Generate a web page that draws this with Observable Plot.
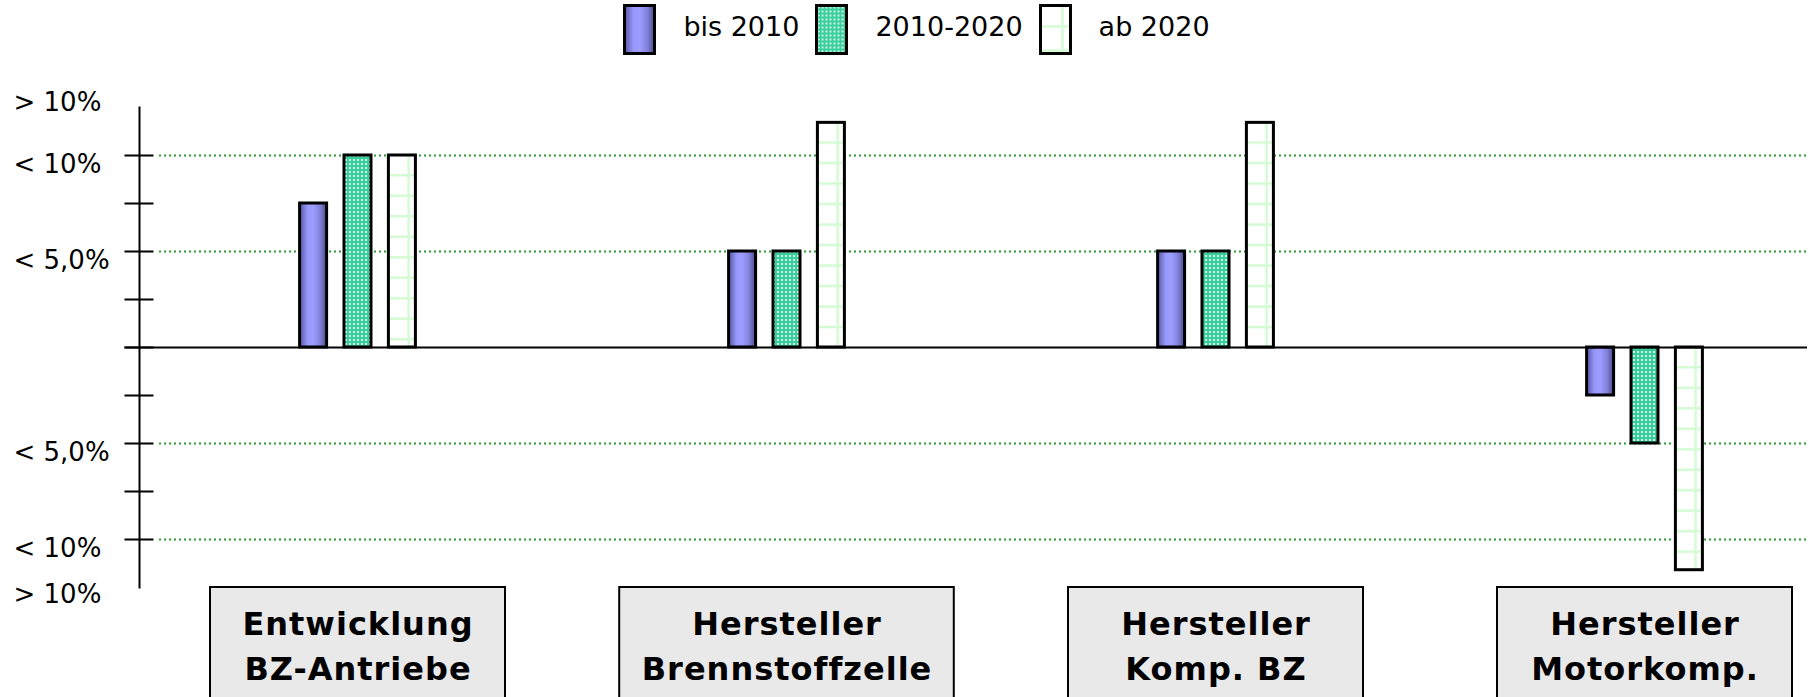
<!DOCTYPE html>
<html>
<head>
<meta charset="utf-8">
<script src="https://cdn.jsdelivr.net/npm/d3@7"></script>
<script src="https://cdn.jsdelivr.net/npm/@observablehq/plot@0.6"></script>
<style>
  html, body { margin: 0; padding: 0; background: #fff; }
  #legend {
    height: 58px; display: flex; justify-content: center; align-items: center;
    padding-left: 14px;
    font-family: "DejaVu Sans", sans-serif; font-size: 27px; color: #000;
  }
  #legend .item { display: flex; align-items: center; margin: 0 8px; }
  #legend svg { display: block; }
  #legend span { margin-left: 27px; position: relative; top: -3px; }
  #chart svg { display: block; overflow: visible; }
  /* category names in the boxes are set slightly spaced */
  #chart g[font-weight="bold"] text { letter-spacing: 1px; }
</style>
</head>
<body>
<svg width="0" height="0" style="position:absolute">
  <defs id="fills">
    <linearGradient id="fill-bis2010" x1="0" x2="1" y1="0" y2="0">
      <stop offset="0" stop-color="#5656a4"/>
      <stop offset="0.3" stop-color="#9898fc"/>
      <stop offset="0.5" stop-color="#9d9dff"/>
      <stop offset="0.75" stop-color="#8383dc"/>
      <stop offset="1" stop-color="#4a4a8a"/>
    </linearGradient>
    <pattern id="fill-2010-2020" patternUnits="userSpaceOnUse" width="4" height="4">
      <rect width="4" height="4" fill="#38cf9d"/>
      <rect x="1" y="1" width="2" height="2" fill="#cff6e9"/>
    </pattern>
    <pattern id="fill-ab2020" patternUnits="userSpaceOnUse" width="28" height="20.5">
      <rect width="28" height="20.5" fill="#fff"/>
      <line x1="20.5" x2="20.5" y1="0" y2="20.5" stroke="#d4fbd4" stroke-width="2.5"/>
      <line x1="0" x2="28" y1="20" y2="20" stroke="#d4fbd4" stroke-width="2.5"/>
    </pattern>
  </defs>
</svg>
<div id="legend"></div>
<div id="chart"></div>
<script>
// Categories (two-line labels) and the three time periods
const categories = [
  "Entwicklung\nBZ-Antriebe",
  "Hersteller\nBrennstoffzelle",
  "Hersteller\nKomp. BZ",
  "Hersteller\nMotorkomp."
];
const series = ["bis 2010", "2010-2020", "ab 2020"];

// Values per period, one entry per category (percent)
const bis2010 = [7.5, 5, 5, -2.5];
const von2010bis2020 = [10, 5, 5, -5];
const ab2020 = [10, 11.7, 11.7, -11.6];

// Y axis: tick marks, dotted reference levels and the class labels
const yTicks = [-10, -7.5, -5, -2.5, 0, 2.5, 5, 7.5, 10];
const gridLevels = [-10, -5, 5, 10];
const yLabelText = ["> 10%", "< 10%", "< 5,0%", "< 5,0%", "< 10%", "> 10%"];
const yLabelAt = [13.2, 10, 5, -5, -10, -12.4];

const seriesValues = [bis2010, von2010bis2020, ab2020];
const seriesFill = ["url(#fill-bis2010)", "url(#fill-2010-2020)", "url(#fill-ab2020)"];

const rows = categories.flatMap((c, i) =>
  series.map((s, j) => ({category: c, series: s, value: seriesValues[j][i]}))
);

// Legend
const legend = d3.select("#legend");
series.forEach((s, j) => {
  const item = legend.append("div").attr("class", "item");
  const sw = item.append("svg").attr("width", 33).attr("height", 51);
  const g = sw.append("g").attr("transform", "translate(1.5,1.5)");
  if (j === 2) {
    g.append("rect").attr("width", 30).attr("height", 48).attr("fill", "#fff");
    g.append("line").attr("x1", 22).attr("x2", 22).attr("y1", 0).attr("y2", 48)
      .attr("stroke", "#d4fbd4").attr("stroke-width", 2.5);
    [21, 45].forEach(y => g.append("line").attr("x1", 0).attr("x2", 30)
      .attr("y1", y).attr("y2", y).attr("stroke", "#d4fbd4").attr("stroke-width", 2.5));
    g.append("rect").attr("width", 30).attr("height", 48).attr("fill", "none")
      .attr("stroke", "#000").attr("stroke-width", 3);
  } else {
    g.append("rect").attr("width", 30).attr("height", 48)
      .attr("fill", seriesFill[j]).attr("stroke", "#000").attr("stroke-width", 3);
  }
  item.append("span").text(s);
});

// Layout
const W = 1819, H = 639;
const mL = 139, mR = 12, mT = 49, mB = 110;
const frameW = W - mL - mR, frameH = H - mT - mB;
const yDomain = [-12.5, 12.5];
const groupWidth = 296;    // band width of one category (minimum box width)
const boxPadding = 22;     // horizontal room between a box and its label
const barWidth = 28;       // width of one period bar
const barPitch = 44.4;     // distance between neighbouring period bars
const barInset = (groupWidth - barWidth) / 2;

const chart = Plot.plot({
  width: W,
  height: H,
  marginLeft: mL,
  marginRight: mR,
  marginTop: mT,
  marginBottom: mB,
  style: {fontFamily: "DejaVu Sans", background: "#fff", color: "#000"},
  x: {domain: categories, paddingInner: 0.3116, paddingOuter: 0.0955, align: 0.826, axis: null, label: null},
  y: {domain: yDomain, axis: null, label: null},
  marks: [
    // dotted reference levels
    Plot.ruleY(gridLevels, {stroke: "#2a9a36", strokeWidth: 2, strokeDasharray: "2,3", insetLeft: 20}),
    // bars, one mark per period, placed side by side inside each category
    ...series.map((s, j) => Plot.barY(rows.filter(d => d.series === s), {
      x: "category", y: "value",
      dx: (j - 1) * barPitch, insetLeft: barInset, insetRight: barInset,
      fill: seriesFill[j], stroke: "#000", strokeWidth: 3
    })),
    // zero line, y axis and crossing ticks
    Plot.ruleY([0], {stroke: "#000", strokeWidth: 2, insetLeft: -14.5}),
    Plot.frame({anchor: "left", stroke: "#000", strokeWidth: 2}),
    Plot.tickY(yTicks, {stroke: "#000", strokeWidth: 2, insetLeft: -14.5, insetRight: frameW - 14.5}),
    Plot.text(yLabelAt, {
      y: d => d, text: (d, i) => yLabelText[i],
      frameAnchor: "left", textAnchor: "start", dx: -126, dy: 9, fontSize: 26, fill: "#000"
    }),
    // category boxes beneath the frame
    Plot.barY(categories, {
      x: d => d, y1: yDomain[0], y2: yDomain[0] - 7,
      fill: "#e9e9e9", stroke: "#000", strokeWidth: 2
    }),
    Plot.text(categories, {
      x: d => d, text: d => d, frameAnchor: "bottom", lineAnchor: "top",
      dy: 15, lineHeight: 1.41, fontSize: 32, fontWeight: "bold", fill: "#000"
    })
  ]
});
document.getElementById("chart").append(chart);

// Widen a category box when its label needs more room than the band gives
const boxes = d3.select(chart).selectAll('[fill="#e9e9e9"] rect').nodes();
const labels = d3.select(chart).selectAll('g[font-weight="bold"] text').nodes();
boxes.forEach((box, i) => {
  const label = labels[i];
  if (!label) return;
  const need = label.getBBox().width + 2 * boxPadding;
  const w = +box.getAttribute("width");
  if (need > w) {
    const x = +box.getAttribute("x");
    box.setAttribute("x", x - (need - w) / 2);
    box.setAttribute("width", need);
  }
});

// Grid fill for the "ab 2020" bars, anchored to each bar's own corner
const defs = d3.select("#fills");
d3.select(chart).selectAll('[fill="url(#fill-ab2020)"] rect').each(function(_, k) {
  const r = d3.select(this);
  const x = +r.attr("x"), y = +r.attr("y"), w = +r.attr("width"), h = +r.attr("height");
  const id = `fill-ab2020-${k}`;
  const p = defs.append("pattern").attr("id", id).attr("patternUnits", "userSpaceOnUse")
    .attr("x", x).attr("y", y).attr("width", w).attr("height", h);
  p.append("rect").attr("width", w).attr("height", h).attr("fill", "#fff");
  p.append("line").attr("x1", w * 0.75).attr("x2", w * 0.75).attr("y1", 0).attr("y2", h)
    .attr("stroke", "#d4fbd4").attr("stroke-width", 2.5);
  for (let ly = 20.25; ly < h; ly += 20.5) {
    p.append("line").attr("x1", 0).attr("x2", w).attr("y1", ly).attr("y2", ly)
      .attr("stroke", "#d4fbd4").attr("stroke-width", 2.5);
  }
  r.attr("fill", `url(#${id})`);
});
</script>
</body>
</html>
